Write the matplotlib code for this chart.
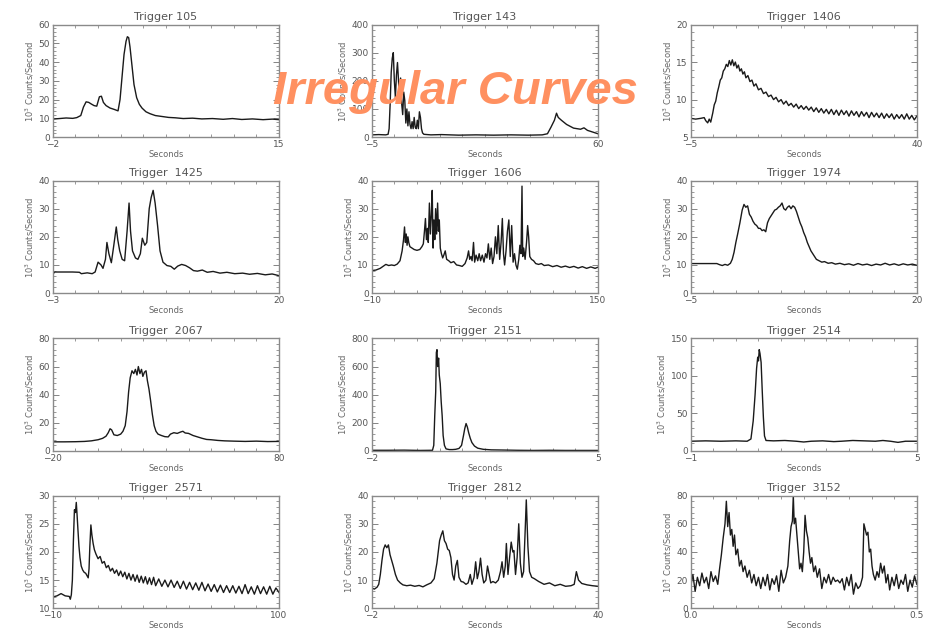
import numpy as np
import matplotlib
matplotlib.use('Agg')
import matplotlib.pyplot as plt
from matplotlib.ticker import MultipleLocator, AutoMinorLocator

# light curves: (seconds, 10^3 counts/second)
lc105 = [(-2, 9.6), (-1.5, 9.9), (-1.0, 10.2), (-0.5, 10.0), (-0.2, 10.4), (0.1, 11.5), (0.3, 16.0),
         (0.5, 18.8), (0.7, 18.5), (0.9, 17.6), (1.1, 16.8), (1.3, 16.5), (1.5, 21.5), (1.65, 21.8),
         (1.8, 18.5), (2.0, 16.8), (2.3, 15.5), (2.6, 14.8), (2.9, 14.0), (3.05, 20.0), (3.2, 32.0),
         (3.35, 44.0), (3.5, 51.0), (3.6, 53.5), (3.7, 53.0), (3.8, 48.0), (3.95, 38.0), (4.1, 28.0),
         (4.3, 21.0), (4.5, 17.5), (4.7, 15.5), (5.0, 13.5), (5.3, 12.5), (5.7, 11.5), (6.2, 11.0),
         (6.7, 10.5), (7.2, 10.3), (7.8, 9.9), (8.5, 10.1), (9.2, 9.7), (10.0, 9.9), (10.8, 9.5),
         (11.5, 9.9), (12.2, 9.4), (13.0, 9.7), (13.8, 9.3), (14.5, 9.6), (15.0, 9.3)]

lc143 = [(-5, 8), (-3, 9), (-1, 8), (-0.3, 10), (0.0, 30), (0.3, 120), (0.6, 230), (0.9, 280), (1.2, 300),
         (1.5, 200), (1.8, 140), (2.1, 220), (2.4, 265), (2.7, 200), (3.0, 130), (3.3, 210), (3.6, 120),
         (3.9, 80), (4.2, 160), (4.5, 130), (4.8, 50), (5.1, 100), (5.4, 40), (5.7, 90), (6.0, 45),
         (6.3, 30), (6.6, 55), (6.9, 30), (7.2, 70), (7.5, 35), (7.8, 30), (8.1, 60), (8.4, 30), (8.7, 90),
         (9.0, 70), (9.3, 30), (9.6, 15), (10, 10), (12, 8), (15, 9), (20, 7), (25, 8), (30, 7), (35, 8),
         (40, 7), (44, 8), (45.5, 12), (46.5, 35), (47.5, 60), (48.1, 85), (48.6, 70), (49.5, 60),
         (51, 45), (53, 32), (55, 28), (56, 33), (57, 24), (59, 16), (60, 12)]

lc1406 = [(-5, 7.5), (-4, 7.4), (-3, 7.5), (-2.3, 7.6), (-2.0, 7.2), (-1.6, 6.9), (-1.3, 7.4), (-1.0, 7.0),
          (-0.6, 8.2), (-0.3, 9.3), (0.0, 9.8), (0.3, 10.9), (0.6, 11.7), (0.9, 12.6), (1.2, 12.9),
          (1.5, 13.8), (1.8, 14.1), (2.1, 14.7), (2.4, 14.4), (2.7, 15.2), (3.0, 14.6), (3.3, 15.3),
          (3.6, 14.5), (3.9, 15.0), (4.2, 14.2), (4.5, 14.6), (4.8, 13.8), (5.1, 14.1), (5.4, 13.4),
          (5.7, 13.7), (6.0, 12.9), (6.4, 13.2), (6.8, 12.4), (7.2, 12.6), (7.6, 11.8), (8.0, 12.1),
          (8.5, 11.3), (9.0, 11.5), (9.5, 10.8), (10, 11.0), (10.5, 10.4), (11, 10.6), (11.5, 10.0),
          (12, 10.3), (12.5, 9.7), (13, 10.0), (13.5, 9.4), (14, 9.8), (14.5, 9.2), (15, 9.5), (15.5, 9.0),
          (16, 9.4), (16.5, 8.8), (17, 9.2), (17.5, 8.7), (18, 9.1), (18.5, 8.6), (19, 9.0), (19.5, 8.4),
          (20, 8.9), (20.5, 8.3), (21, 8.8), (21.5, 8.2), (22, 8.7), (22.5, 8.1), (23, 8.7), (23.5, 8.0),
          (24, 8.6), (24.5, 7.9), (25, 8.6), (25.5, 8.0), (26, 8.5), (26.5, 7.8), (27, 8.5), (27.5, 7.9),
          (28, 8.4), (28.5, 7.7), (29, 8.4), (29.5, 7.8), (30, 8.3), (30.5, 7.6), (31, 8.3), (31.5, 7.7),
          (32, 8.2), (32.5, 7.6), (33, 8.2), (33.5, 7.5), (34, 8.1), (34.5, 7.6), (35, 8.1), (35.5, 7.4),
          (36, 8.0), (36.5, 7.5), (37, 8.0), (37.5, 7.4), (38, 8.1), (38.5, 7.4), (39, 7.9), (39.5, 7.3),
          (40, 7.8)]

lc1425 = [(-3, 6.8), (-2.8, 7.5), (-2, 7.5), (-1, 7.5), (-0.3, 7.4), (-0.1, 6.9), (0.5, 7.2), (1.0, 6.9),
          (1.3, 7.5), (1.6, 11.0), (1.9, 10.0), (2.1, 8.8), (2.35, 12), (2.5, 18), (2.7, 14), (2.95, 10.8),
          (3.2, 17), (3.45, 23.5), (3.6, 19), (3.8, 15), (4.05, 12), (4.3, 11.5), (4.55, 22), (4.75, 32),
          (4.9, 22), (5.1, 15), (5.4, 12.5), (5.65, 12), (5.9, 14), (6.1, 19.5), (6.35, 17), (6.55, 18),
          (6.8, 30), (7.0, 34), (7.2, 36.5), (7.4, 32), (7.65, 24), (7.9, 15), (8.2, 11), (8.6, 9.8),
          (9.0, 9.5), (9.35, 8.5), (9.7, 9.6), (10.1, 10.2), (10.5, 9.8), (10.9, 9.0), (11.3, 8.0),
          (11.7, 7.8), (12.2, 8.2), (12.7, 7.4), (13.3, 7.7), (14, 7.1), (14.7, 7.4), (15.5, 6.9),
          (16.3, 7.1), (17, 6.7), (17.8, 7.0), (18.6, 6.5), (19.3, 6.8), (20, 6.2)]

lc1606 = [(-10, 8.0), (-7, 8.2), (-4, 8.8), (-2, 9.5), (0, 10.2), (2, 9.8), (4, 10.0), (6, 9.8), (8, 10.3),
          (10, 11.5), (11.5, 15), (12.5, 19), (13.2, 23.5), (13.8, 18), (14.4, 21), (15, 17), (15.6, 20),
          (16.2, 18), (17, 16.5), (18.5, 16), (20, 15.5), (22, 15.2), (24, 15.5), (25.5, 16.5), (26.5, 17.5),
          (27.3, 22), (28, 26.5), (28.7, 19), (29.4, 23), (30, 18), (30.8, 32), (31.5, 21), (32.2, 28),
          (32.8, 36.5), (33.4, 16), (34, 26), (34.6, 19), (35.2, 30), (35.9, 21), (36.6, 32), (37.2, 22),
          (37.8, 26), (38.5, 16), (39.3, 14), (40.2, 12.5), (41, 13.5), (42, 15), (43, 12), (44.5, 11.5),
          (46, 10.8), (48, 11.2), (50, 10), (52, 9.8), (54, 9.5), (56, 10.5), (57.5, 12.5), (58.5, 15),
          (59.3, 12), (60.2, 13), (61, 11.5), (62, 18), (62.8, 11), (63.8, 13.5), (65, 11.5), (66, 14),
          (67, 11.5), (68.2, 13.5), (69.4, 11), (70.5, 14), (71.5, 12.5), (72.5, 17.5), (73.5, 12),
          (74.5, 16), (75.5, 10.5), (76.5, 13), (77.5, 20), (78.5, 14), (79.5, 24), (80.5, 12), (81.5, 18),
          (82.4, 26.5), (83.2, 14), (84, 10), (85, 15), (86, 22), (87, 26), (88, 13), (89, 24), (90, 11),
          (91, 14), (92, 10), (93, 8.5), (94, 12), (94.8, 17), (95.6, 14), (96.3, 38), (96.8, 13),
          (97.5, 16), (98.5, 12), (99.5, 18), (100.3, 24), (101, 20), (101.8, 13), (103, 12), (104.5, 11.5),
          (106, 10.5), (108, 10.2), (110, 10.5), (112, 9.8), (115, 10), (118, 9.4), (121, 9.8), (124, 9.2),
          (127, 9.6), (130, 9.1), (133, 9.5), (136, 8.9), (139, 9.4), (142, 8.8), (145, 9.3), (148, 8.8),
          (150, 9.2)]

lc1974 = [(-5, 10.5), (-4, 10.5), (-3, 10.5), (-2.1, 10.5), (-1.8, 10.1), (-1.5, 9.8), (-1.2, 10.2),
          (-0.9, 9.9), (-0.6, 10.6), (-0.4, 12), (-0.2, 14.5), (0.0, 18), (0.2, 21), (0.45, 25), (0.7, 29.5),
          (0.9, 31.5), (1.1, 30.5), (1.3, 31), (1.5, 28), (1.7, 27), (1.9, 25.5), (2.1, 24.5), (2.3, 24),
          (2.5, 23), (2.7, 23), (2.9, 22.2), (3.1, 22.5), (3.3, 21.8), (3.5, 25), (3.7, 26.5), (3.9, 27.5),
          (4.1, 28.5), (4.3, 29.5), (4.5, 29.8), (4.7, 30.5), (4.9, 31), (5.1, 32), (5.3, 30), (5.5, 29.5),
          (5.7, 30.5), (5.9, 31), (6.1, 30), (6.3, 31), (6.5, 30.5), (6.7, 29), (6.9, 27), (7.1, 25),
          (7.3, 23.5), (7.5, 21.5), (7.7, 20), (7.9, 18), (8.1, 16.5), (8.3, 15), (8.5, 14), (8.7, 13),
          (8.9, 12), (9.2, 11.5), (9.5, 11), (9.8, 11.2), (10.2, 10.6), (10.6, 10.8), (11, 10.3),
          (11.5, 10.6), (12, 10.1), (12.5, 10.4), (13, 9.9), (13.5, 10.5), (14, 10.0), (14.5, 10.3),
          (15, 9.8), (15.5, 10.3), (16, 10.0), (16.5, 10.6), (17, 10.0), (17.5, 10.4), (18, 9.9),
          (18.5, 10.4), (19, 10.0), (19.5, 10.3), (20, 9.9)]

lc2067 = [(-20, 6.5), (-15, 6.5), (-10, 6.6), (-6, 6.8), (-3, 7.2), (0, 8), (2, 9), (3.5, 10.5), (4.5, 13),
          (5.3, 15.8), (6, 15), (7, 11.5), (8.5, 11), (10, 12), (11, 14), (12, 18), (12.8, 28), (13.5, 42),
          (14.2, 52), (15, 57), (15.8, 55), (16.5, 58), (17.2, 54), (17.8, 60), (18.5, 55), (19.2, 58),
          (19.8, 53), (20.5, 56), (21.2, 57), (21.8, 50), (22.5, 44), (23.2, 36), (24, 26), (24.8, 18),
          (25.6, 14), (26.5, 12), (28, 11), (29.5, 10.2), (31, 10), (32, 12), (33.5, 13), (35, 12.5),
          (36.5, 13.5), (37.5, 14), (38.5, 12.8), (40, 12.5), (42, 11), (44, 10), (46, 9), (48, 8.2),
          (50, 8), (53, 7.5), (56, 7.2), (60, 7), (65, 6.8), (70, 7), (75, 6.7), (80, 6.8)]

lc2151 = [(-2, 5), (-1.5, 5), (-1, 6), (-0.5, 4), (-0.12, 5), (-0.08, 40), (-0.05, 250), (-0.02, 420),
          (0.0, 700), (0.02, 720), (0.04, 600), (0.07, 660), (0.09, 540), (0.12, 480), (0.15, 350),
          (0.18, 250), (0.21, 110), (0.25, 40), (0.3, 15), (0.4, 10), (0.5, 10), (0.6, 12), (0.7, 18),
          (0.78, 40), (0.84, 110), (0.88, 160), (0.92, 195), (0.96, 170), (1.0, 130), (1.05, 90),
          (1.1, 60), (1.18, 35), (1.28, 20), (1.45, 12), (1.7, 8), (2.0, 7), (2.5, 5), (3, 4), (3.5, 5),
          (4, 4), (4.5, 4), (5, 4)]

lc2514 = [(-1, 13), (-0.6, 13.5), (-0.2, 13), (0.2, 13.5), (0.5, 13), (0.6, 16), (0.66, 40), (0.71, 75),
          (0.75, 110), (0.78, 125), (0.8, 120), (0.82, 135), (0.84, 130), (0.87, 118), (0.9, 80),
          (0.93, 45), (0.96, 20), (1.0, 14), (1.2, 13.5), (1.5, 14), (1.8, 13), (2.0, 12), (2.2, 13),
          (2.5, 13.5), (2.8, 12.5), (3.0, 13), (3.3, 14), (3.6, 13.5), (3.9, 13), (4.1, 14), (4.3, 13),
          (4.5, 11.5), (4.7, 13), (5, 13)]

lc2571 = [(-10, 12), (-8, 12.2), (-6, 12.6), (-4, 12.2), (-2, 12.1), (-1.5, 11.6), (-1, 12.4), (-0.5, 15),
          (0, 22), (0.5, 27.5), (1.0, 27), (1.4, 28.8), (1.8, 26.5), (2.2, 24), (2.7, 21), (3.2, 19),
          (3.8, 17.5), (4.5, 16.8), (5.2, 16.4), (6.0, 16.2), (6.6, 15.8), (7.2, 15.4), (7.6, 17), (8.0, 21),
          (8.5, 24.8), (9.0, 23), (9.6, 21.5), (10.2, 20.4), (11, 19.6), (12, 18.8), (13, 19.2), (14, 18.0),
          (15, 18.3), (16, 17.2), (17, 17.6), (18, 16.6), (19, 17.1), (20, 16.2), (21, 16.8), (22, 15.8),
          (23, 16.6), (24, 15.6), (25, 16.4), (26, 15.2), (27, 16.2), (28, 15.0), (29, 16.0), (30, 14.8),
          (31, 15.9), (32, 14.6), (33, 15.7), (34, 14.5), (35, 15.6), (36, 14.3), (37, 15.4), (38, 14.2),
          (39, 15.5), (40, 14.0), (41.5, 15.2), (43, 13.9), (44.5, 15.0), (46, 13.8), (47.5, 15.0),
          (49, 13.7), (50.5, 14.8), (52, 13.5), (53.5, 14.8), (55, 13.4), (56.5, 14.6), (58, 13.3),
          (59.5, 14.5), (61, 13.2), (62.5, 14.6), (64, 13.1), (65.5, 14.3), (67, 13.0), (68.5, 14.2),
          (70, 12.9), (71.5, 14.1), (73, 12.8), (74.5, 14.0), (76, 12.8), (77.5, 14.0), (79, 12.7),
          (80.5, 13.9), (82, 12.6), (83.5, 14.2), (85, 12.6), (86.5, 13.8), (88, 12.5), (89.5, 14.0),
          (91, 12.6), (92.5, 13.8), (94, 12.5), (95.5, 13.9), (97, 12.5), (98.5, 13.6), (100, 12.8)]

lc2812 = [(-2, 7.2), (-1.5, 6.8), (-1.0, 7.5), (-0.7, 8.5), (-0.4, 12), (-0.1, 17), (0.2, 21), (0.5, 22.5),
          (0.8, 21.5), (1.1, 22.5), (1.4, 19), (1.7, 17), (2.0, 15), (2.4, 12), (2.8, 10), (3.3, 9),
          (3.8, 8.3), (4.5, 8), (5.2, 8.2), (6, 7.8), (6.8, 8.1), (7.5, 7.6), (8.2, 8.3), (9, 9), (9.6, 10.5),
          (10.1, 16), (10.6, 24), (10.9, 26), (11.2, 27.5), (11.5, 24), (11.8, 23), (12.1, 21), (12.4, 20.5),
          (12.7, 18), (13.0, 12), (13.3, 10), (13.6, 15), (13.9, 17), (14.2, 11), (14.6, 9.5), (15.0, 9.3),
          (15.5, 8.5), (15.9, 9), (16.3, 12), (16.6, 8.5), (17.0, 11), (17.3, 16.5), (17.6, 10.5),
          (17.9, 13), (18.2, 17.8), (18.5, 12), (18.8, 9), (19.2, 10), (19.5, 15), (19.8, 12), (20.1, 9),
          (20.5, 9.5), (21, 9), (21.5, 10), (21.9, 13), (22.2, 16.5), (22.5, 11), (22.8, 15), (23.0, 23),
          (23.3, 12), (23.6, 18), (23.9, 23.5), (24.2, 20), (24.4, 20.5), (24.7, 12), (25.0, 18),
          (25.3, 30), (25.6, 16), (25.9, 11), (26.2, 13), (26.5, 28), (26.7, 38.5), (27.0, 22), (27.3, 13),
          (27.7, 11), (28.2, 10.5), (29, 9.5), (30, 8.5), (31, 9), (32, 8), (33, 8.5), (34, 7.8), (35, 8),
          (35.6, 8.5), (36.0, 13), (36.4, 10), (37, 8.8), (38, 8.3), (39, 8.0), (40, 7.8)]

lc3152 = [(0.000, 15), (0.005, 24), (0.010, 12), (0.015, 22), (0.020, 16), (0.025, 25), (0.030, 18),
          (0.035, 22), (0.040, 14), (0.045, 26), (0.050, 19), (0.055, 23), (0.060, 17), (0.064, 28),
          (0.068, 38), (0.072, 50), (0.076, 60), (0.079, 76), (0.082, 58), (0.085, 68), (0.088, 52),
          (0.091, 56), (0.094, 44), (0.097, 52), (0.100, 38), (0.104, 42), (0.108, 30), (0.112, 34),
          (0.116, 26), (0.120, 30), (0.125, 22), (0.130, 27), (0.135, 18), (0.140, 24), (0.145, 16),
          (0.150, 22), (0.155, 14), (0.160, 22), (0.165, 16), (0.170, 24), (0.175, 13), (0.180, 21),
          (0.185, 17), (0.190, 23), (0.195, 12), (0.200, 27), (0.205, 18), (0.210, 22), (0.215, 30),
          (0.219, 48), (0.222, 58), (0.225, 62), (0.227, 80), (0.229, 60), (0.232, 64), (0.235, 52),
          (0.238, 40), (0.241, 28), (0.244, 32), (0.247, 26), (0.250, 40), (0.253, 66), (0.256, 55),
          (0.259, 50), (0.262, 40), (0.265, 32), (0.268, 36), (0.272, 26), (0.276, 30), (0.280, 22),
          (0.285, 28), (0.290, 14), (0.295, 22), (0.300, 18), (0.305, 24), (0.310, 17), (0.315, 22),
          (0.320, 19), (0.325, 20), (0.330, 18), (0.335, 21), (0.340, 13), (0.345, 22), (0.350, 16),
          (0.355, 24), (0.360, 10), (0.365, 18), (0.370, 14), (0.375, 16), (0.380, 22), (0.383, 60),
          (0.386, 56), (0.389, 52), (0.392, 54), (0.395, 40), (0.398, 42), (0.401, 30), (0.404, 24),
          (0.408, 20), (0.412, 26), (0.416, 22), (0.420, 32), (0.424, 25), (0.428, 30), (0.432, 18),
          (0.436, 24), (0.440, 13), (0.445, 22), (0.450, 16), (0.455, 24), (0.460, 14), (0.465, 20),
          (0.470, 17), (0.475, 24), (0.480, 12), (0.485, 20), (0.490, 15), (0.495, 23), (0.500, 17)]

triggers = ['105', '143', ' 1406', ' 1425', ' 1606', ' 1974', ' 2067', ' 2151', ' 2514', ' 2571', ' 2812', ' 3152']
curves = [lc105, lc143, lc1406, lc1425, lc1606, lc1974, lc2067, lc2151, lc2514, lc2571, lc2812, lc3152]
xranges = [(-2, 15), (-5, 60), (-5, 40), (-3, 20), (-10, 150), (-5, 20),
           (-20, 80), (-2, 5), (-1, 5), (-10, 100), (-2, 40), (0.0, 0.5)]
xlabels = [('−2', '15'), ('−5', '60'), ('−5', '40'), ('−3', '20'), ('−10', '150'), ('−5', '20'),
           ('−20', '80'), ('−2', '5'), ('−1', '5'), ('−10', '100'), ('−2', '40'), ('0.0', '0.5')]
yranges = [(0, 60), (0, 400), (5, 20), (0, 40), (0, 40), (0, 40),
           (0, 80), (0, 800), (0, 150), (10, 30), (0, 40), (0, 80)]
ysteps = [10, 100, 5, 10, 10, 10, 20, 200, 50, 5, 10, 20]

grey = '#707070'
fig = plt.figure(figsize=(9.27, 6.29), dpi=100)
lefts = [0.057, 0.401, 0.745]
bottoms = [0.782, 0.534, 0.283, 0.033]
w, h = 0.244, 0.179

for i in range(12):
    ax = fig.add_axes([lefts[i % 3], bottoms[i // 3], w, h])
    t, c = np.array(curves[i]).T
    ax.plot(t, c, color='#1a1a1a', lw=1.0)
    ax.set_xlim(xranges[i])
    ax.set_ylim(yranges[i])
    ax.set_xticks(xranges[i])
    ax.set_xticklabels(xlabels[i])
    ax.xaxis.set_minor_locator(AutoMinorLocator(10))
    ax.yaxis.set_major_locator(MultipleLocator(ysteps[i]))
    ax.yaxis.set_minor_locator(AutoMinorLocator(5))
    ax.tick_params(which='both', direction='in', top=True, right=True, colors=grey,
                   labelcolor='#555555', labelsize=6.5, pad=2)
    ax.tick_params(which='major', length=4, width=0.6)
    ax.tick_params(which='minor', length=2, width=0.5)
    for s in ax.spines.values():
        s.set_color('#8a8a8a')
        s.set_linewidth(1.0)
    ax.set_title('Trigger ' + triggers[i], fontsize=8, color='#555555', pad=3)
    ax.set_xlabel('Seconds', fontsize=6, color='#666666', labelpad=1)
    ax.set_ylabel('10$^3$ Counts/Second', fontsize=6, color='#666666', labelpad=2)

fig.text(0.491, 0.854, 'Irregular Curves', ha='center', va='center', fontsize=34,
         fontweight='bold', style='italic', family='Liberation Sans', color='#FF9060')

fig.savefig('out.png', dpi=100)
